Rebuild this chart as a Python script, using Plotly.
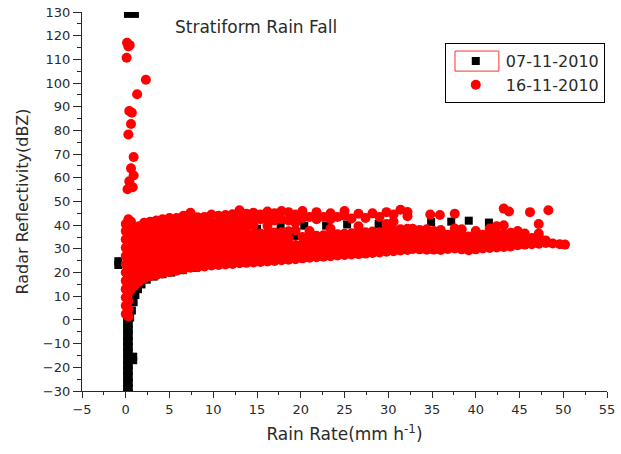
import plotly.graph_objects as go

# ---------------- data ----------------
# 07-11-2010 (black squares)
black_x = [0.25, 1.05, -0.85, -0.85,
           0.15, 0.15, 0.15, 0.15, 0.15, 0.15, 0.15, 0.15, 0.15, 0.15, 0.15, 0.15, 0.15, 0.15,
           0.35, 0.35, 0.35, 0.35, 0.35, 0.35, 0.35, 0.35, 0.35, 0.35, 0.35, 0.35, 0.35, 0.35,
           0.85, 0.85,
           0.5, 0.7, 0.9, 1.1, 1.4, 1.8, 2.4, 3.2, 4.2, 5.2, 6.5, 8.0,
           13.0, 15.0, 17.7, 19.4, 20.4, 22.9, 25.3, 28.9, 34.9, 37.2, 39.2, 41.5]
black_y = [129.2, 129.2, 23.2, 24.8,
           1, -1.5, -4, -6.5, -9, -11.5, -14, -16.5, -19, -21.5, -24, -26.5, -29, -31,
           1, -1.5, -4, -6.5, -9, -11.5, -14, -16.5, -19, -21.5, -24, -26.5, -29, -31,
           -15.5, -17,
           1, 4, 7.5, 10.5, 13, 15, 17, 18.3, 19.3, 20, 21, 22,
           36.5, 38.5, 39.3, 35.5, 39.8, 39.8, 40.3, 40.5, 41.3, 41.5, 41.9, 41.1]

# 16-11-2010 (red circles): isolated high values near zero rain rate
red_out_x = [0.15, 0.45, 0.3, 0.1, 2.3, 1.3, 0.4, 0.7, 0.6, 0.3, 0.9, 0.6, 0.9, 0.4, 0.2, 0.8]
red_out_y = [117, 116, 115.5, 110.7, 101.4, 95.3, 88.2, 87.5, 82.7, 78.3, 68.8, 64, 61, 58.5, 55.2, 56]

# 16-11-2010 main cloud, read column by column (rain rate -> reflectivities)
red_col_x = [0.0, 0.3, 0.6, 1.0, 1.5, 2.1, 2.8, 3.5, 4.2, 5.0, 5.8, 6.6, 7.4, 8.2, 9.0, 9.8,
             10.6, 11.4, 12.2, 13.0, 13.8, 14.6, 15.4, 16.2, 17.0, 17.8, 18.6, 19.4, 20.2,
             21.0, 21.8, 22.6, 23.4, 24.2, 25.0, 25.8, 26.6, 27.4, 28.2, 29.0, 29.8, 30.6,
             31.4, 32.2, 32.8, 33.6, 34.4, 34.8, 35.2, 35.9, 36.0, 36.8, 37.6, 38.4, 39.2,
             40.0, 40.8, 41.6, 42.4, 43.2, 43.8, 44.0, 44.8, 45.6, 46.2, 46.4, 47.2, 48.0,
             48.3, 48.8, 49.6, 50.2]
red_col_y = [
    [2.5, 6, 9.5, 13, 16.5, 20, 23.5, 27, 30.5, 34, 37.5, 40.5],
    [1.5, 4.5, 8, 11.5, 15, 18.5, 22, 25.5, 29, 32.5, 36, 39.5, 42.5],
    [13, 16.5, 20, 23.5, 27, 30.5, 34, 37.5, 41.5],
    [14.5, 17.5, 20.5, 23.5, 26.5, 29.5, 32.5, 35.5, 38.5],
    [16, 19, 22, 25, 28, 31, 34, 37, 39.5],
    [17.5, 20.5, 23.5, 26.5, 29.5, 32.5, 35.5, 38.5, 41],
    [18.5, 21.5, 24.5, 27.5, 30.5, 33.5, 36.5, 39.5, 41.5],
    [19, 22, 25, 28, 31, 34, 37, 40, 42],
    [19.6, 22.6, 25.6, 28.6, 31.6, 34.6, 37.6, 40.6, 42.5],
    [20.2, 23, 26, 29, 32, 35, 38, 41, 43],
    [20.8, 23.8, 26.8, 29.8, 32.8, 35.8, 38.8, 41.8, 43],
    [21.4, 24.4, 27.4, 30.4, 33.4, 36.4, 39.4, 42.4, 44],
    [22, 25, 28, 31, 34, 37, 40, 43, 45.2],
    [22.3, 25.3, 28.3, 31.3, 34.3, 37.3, 40.3, 43.3],
    [22.6, 25.6, 28.6, 31.6, 34.6, 37.6, 40.6, 43.5],
    [23, 26, 29, 32, 35, 38, 41, 44.5],
    [23.2, 26.2, 29.2, 32.2, 35.2, 38.2, 41.2, 44],
    [23.4, 26.4, 29.4, 32.4, 35.4, 38.4, 41.4, 44.3],
    [23.6, 26.6, 29.6, 32.6, 35.6, 38.6, 41.6, 44.6],
    [23.9, 26.9, 29.9, 32.9, 35.9, 38.9, 41.9, 44.9, 46.3],
    [24.1, 27.1, 30.1, 33.1, 36.1, 39.1, 42.1, 44.8],
    [24.3, 27.3, 30.3, 33.3, 36.3, 40, 43, 45.3],
    [24.5, 27.5, 30.5, 33.5, 36.5, 42.5, 44.5],
    [24.7, 27.7, 30.7, 33.7, 36.7, 39.7, 42.7, 45.8],
    [24.9, 27.9, 30.9, 33.9, 36.9, 42, 45],
    [25.2, 28.2, 31.2, 34.2, 37, 42.5, 46],
    [25.4, 28.4, 31.4, 34.4, 37.4, 42, 45.5],
    [25.6, 28.6, 31.6, 37.8, 41, 44.5],
    [26, 29, 32, 35, 43, 46],
    [26.3, 29.3, 32.3, 35.3, 37.5, 43.5],
    [26.5, 29.5, 32.5, 35.5, 42.5, 45.5],
    [26.7, 29.7, 32.7, 35.7, 43.5],
    [26.9, 30, 33, 36, 38.5, 42.5, 45],
    [27.2, 30.2, 33.2, 36.2, 43.5],
    [27.4, 30.4, 33.4, 36.4, 44, 46],
    [27.6, 30.6, 33.6, 36.6, 42.8],
    [27.8, 30.8, 33.8, 36.8, 39.5, 44.8],
    [28, 31, 34, 37, 43],
    [28.3, 31.3, 34.3, 37.3, 45],
    [28.5, 31.5, 34.5, 37, 43.5],
    [28.8, 31.8, 34.8, 37.8, 40.5, 45.5],
    [29, 32, 35, 38, 41.5, 44.5],
    [29.3, 32.3, 35.3, 38.3, 46.5],
    [29.5, 32.5, 35.5, 38.5, 43.8, 45.6],
    [30, 33, 36, 38.5],
    [29.8, 32.8, 35.8, 38],
    [29.6, 32.5, 35.5, 38.3],
    [44.5],
    [29.7, 32.7, 35.7, 37.5],
    [44.3],
    [29.5, 32, 35, 38],
    [30, 33, 36],
    [30.2, 33.2, 36.2, 38.6, 44.8],
    [29.8, 32.8, 35.8, 38.3],
    [29.4, 32.2, 35.2],
    [29.8, 32.6, 35.6, 37.5],
    [30.2, 33, 36],
    [30.4, 33.4, 36.4, 38.6],
    [30.6, 33.6, 36.6, 39.6],
    [30.8, 33.5, 36.5, 40, 47],
    [45.8],
    [31, 33.8, 36.8],
    [31.5, 34.5, 37.5],
    [31.8, 34.5, 36.5],
    [45.5],
    [32, 34.6],
    [32.2, 35.2, 36.5, 40.5],
    [32.5, 33.5],
    [46.3],
    [32.3],
    [32],
    [31.8],
]

x_ticks = [-5, 0, 5, 10, 15, 20, 25, 30, 35, 40, 45, 50, 55]
y_ticks = [-30, -20, -10, 0, 10, 20, 30, 40, 50, 60, 70, 80, 90, 100, 110, 120, 130]

# ---------------- build point lists ----------------
red_x, red_y = [], []
for cx, ys in zip(red_col_x, red_col_y):
    for v in ys:
        red_x.append(cx)
        red_y.append(v)
red_x += red_out_x
red_y += red_out_y

FONT = "DejaVu Sans"
INK = "#2a2a2a"

fig = go.Figure()
fig.add_trace(go.Scatter(
    x=black_x, y=black_y, mode="markers", name="07-11-2010",
    marker=dict(symbol="square", size=8, color="black", line=dict(width=0)),
))
fig.add_trace(go.Scatter(
    x=red_x, y=red_y, mode="markers", name="16-11-2010",
    marker=dict(symbol="circle", size=10, color="#ff0000", line=dict(width=0)),
))

axis_common = dict(
    showgrid=False, zeroline=False, showline=True, linecolor=INK, linewidth=1.3,
    ticks="outside", tickcolor=INK, tickwidth=1.2,
    tickfont=dict(family=FONT, size=13, color=INK),
    mirror=False, automargin=False,
)

fig.update_layout(
    width=621, height=454,
    margin=dict(l=82, r=14, t=12, b=63, autoexpand=False),
    paper_bgcolor="white", plot_bgcolor="white",
    showlegend=True,
    legend=dict(
        x=0.691, y=0.918, xanchor="left", yanchor="top",
        bgcolor="rgba(255,255,255,0)", bordercolor="black", borderwidth=1,
        font=dict(family=FONT, size=16, color=INK),
        itemwidth=50, tracegroupgap=0,
    ),
    xaxis=dict(
        range=[-5, 55], tickvals=x_ticks, ticklen=6,
        minor=dict(ticks="outside", dtick=2.5, tick0=0, ticklen=3, tickcolor=INK, tickwidth=1.2),
        title=dict(text="Rain Rate(mm h<sup>-1</sup>)", font=dict(family=FONT, size=17, color=INK), standoff=12),
        **axis_common,
    ),
    yaxis=dict(
        range=[-30, 130], tickvals=y_ticks, ticklen=8,
        minor=dict(ticks="outside", dtick=5, tick0=0, ticklen=4, tickcolor=INK, tickwidth=1.2),
        title=dict(text="Radar Reflectivity(dBZ)", font=dict(family=FONT, size=16, color=INK), standoff=10),
        **axis_common,
    ),
    annotations=[dict(
        text="Stratiform Rain Fall", xref="paper", yref="paper", x=0.331, y=0.960,
        xanchor="center", yanchor="middle", showarrow=False,
        font=dict(family=FONT, size=17, color=INK),
    )],
    shapes=[dict(
        type="rect", xref="paper", yref="paper", layer="above",
        x0=0.7105, x1=0.794, y0=0.844, y1=0.897,
        line=dict(color="#ff3030", width=1),
    )],
)

fig.write_html("out.html")
